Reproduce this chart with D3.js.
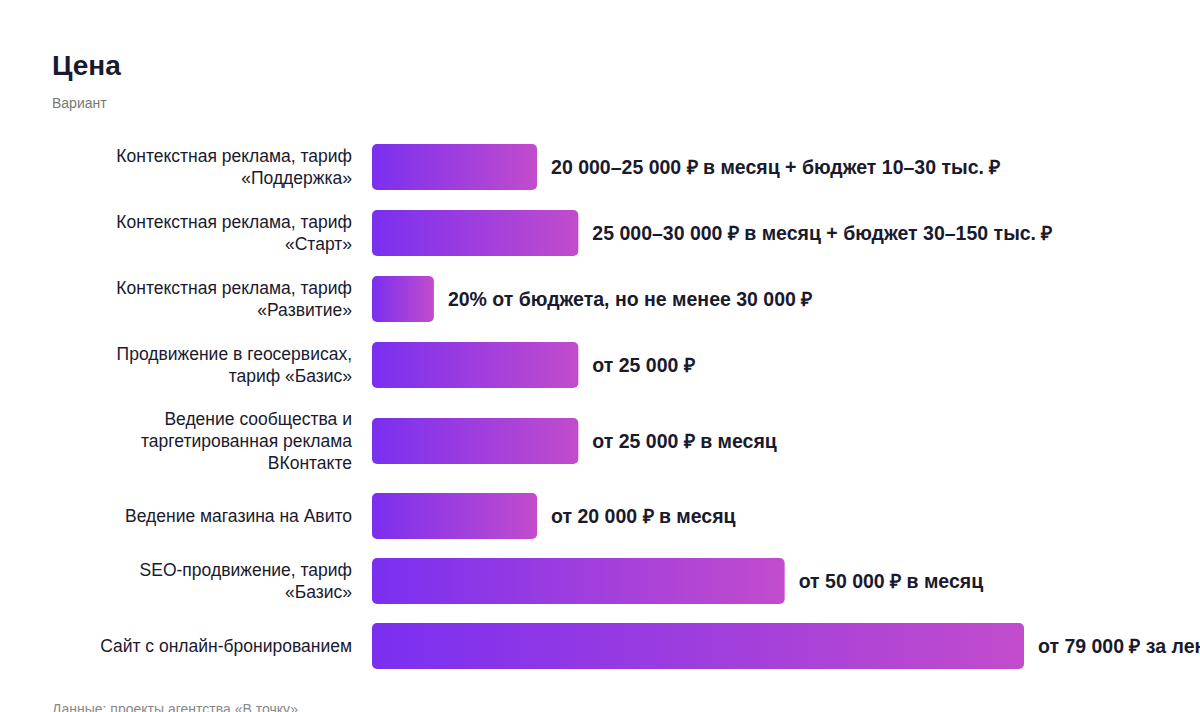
<!DOCTYPE html>
<html><head><meta charset="utf-8">
<script src="https://cdn.jsdelivr.net/npm/d3@7"></script>
<style>body{margin:0;background:#fff;font-family:"Liberation Sans",Arial,sans-serif;overflow:hidden}</style>
</head><body><svg id="c" width="1200" height="712"></svg>
<script>
const categories = [
  ["Контекстная реклама, тариф","«Поддержка»"],
  ["Контекстная реклама, тариф","«Старт»"],
  ["Контекстная реклама, тариф","«Развитие»"],
  ["Продвижение в геосервисах,","тариф «Базис»"],
  ["Ведение сообщества и","таргетированная реклама","ВКонтакте"],
  ["Ведение магазина на Авито"],
  ["SEO-продвижение, тариф","«Базис»"],
  ["Сайт с онлайн-бронированием"]
];
const values = [20000, 25000, 7500, 25000, 25000, 20000, 50000, 79000];
const valueLabels = [
  "20 000–25 000 ₽ в месяц + бюджет 10–30 тыс. ₽",
  "25 000–30 000 ₽ в месяц + бюджет 30–150 тыс. ₽",
  "20% от бюджета, но не менее 30 000 ₽",
  "от 25 000 ₽",
  "от 25 000 ₽ в месяц",
  "от 20 000 ₽ в месяц",
  "от 50 000 ₽ в месяц",
  "от 79 000 ₽ за лендинг"
];
const svg = d3.select("#c");
svg.append("text").attr("x",52).attr("y",75).attr("font-size",28).attr("font-weight",700).attr("fill","#1a1a2e").text("Цена");
svg.append("text").attr("x",52).attr("y",108).attr("font-size",14).attr("fill","#777").text("Вариант");
svg.append("text").attr("x",52).attr("y",714).attr("font-size",14).attr("fill","#888").text("Данные: проекты агентства «В точку»");
const x = d3.scaleLinear().domain([0,79000]).range([372,1024]);
const gapFor = n => n===3 ? 86 : (n===1 ? 64 : 66);
let centers = [], y = 167;
categories.forEach((c,i)=>{ if(i>0){ y += (gapFor(categories[i-1].length)+gapFor(c.length))/2; } centers.push(y); });
const defs = svg.append("defs");
const bh = 46;
values.forEach((v,i)=>{
  const id="g"+i;
  const g=defs.append("linearGradient").attr("id",id).attr("gradientUnits","userSpaceOnUse")
    .attr("x1",x(0)).attr("x2",x(v)).attr("y1",0).attr("y2",0);
  g.append("stop").attr("offset",0).attr("stop-color","#7a2ff0");
  g.append("stop").attr("offset",1).attr("stop-color","#c24ccc");
  const cy=centers[i];
  svg.append("rect").attr("x",x(0)).attr("y",cy-bh/2).attr("width",x(v)-x(0)).attr("height",bh).attr("rx",5).attr("fill",`url(#${id})`);
  svg.append("text").attr("x",x(v)+14).attr("y",cy+7).attr("font-size",19.5).attr("font-weight",700).attr("fill","#1a1a2e").text(valueLabels[i]);
  const lines=categories[i], lh=22;
  const t=svg.append("text").attr("text-anchor","end").attr("font-size",17.5).attr("fill","#1a1a2e");
  lines.forEach((l,k)=>t.append("tspan").attr("x",352).attr("y",cy+6+(k-(lines.length-1)/2)*lh).text(l));
});
</script></body></html>
